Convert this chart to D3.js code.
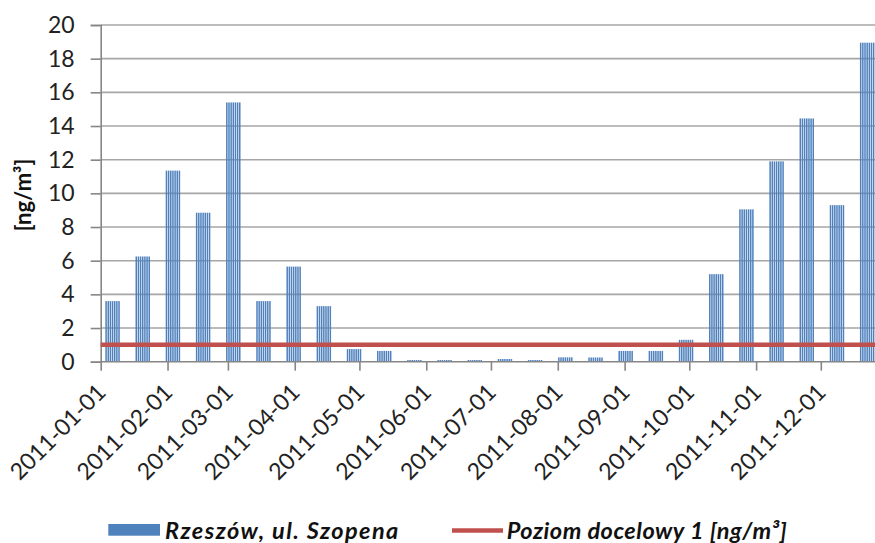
<!DOCTYPE html>
<html>
<head>
<meta charset="utf-8">
<script src="https://cdn.jsdelivr.net/npm/d3@7"></script>
<style>
  html, body { margin: 0; padding: 0; background: #fff; }
  svg { display: block; font-family: Lato, "Open Sans", sans-serif; }
</style>
</head>
<body>
<svg id="chart" width="875" height="543"></svg>
<script>
// ---- data ----
const sampleStarts = [
  "2011-01-03","2011-01-17","2011-01-31","2011-02-14","2011-02-28","2011-03-14",
  "2011-03-28","2011-04-11","2011-04-25","2011-05-09","2011-05-23","2011-06-06",
  "2011-06-20","2011-07-04","2011-07-18","2011-08-01","2011-08-15","2011-08-29",
  "2011-09-12","2011-09-26","2011-10-10","2011-10-24","2011-11-07","2011-11-21",
  "2011-12-05","2011-12-19"
];
const sampleValues = [
  3.6, 6.25, 11.35, 8.85, 15.4, 3.6,
  5.65, 3.3, 0.75, 0.64, 0.1, 0.1,
  0.1, 0.16, 0.1, 0.26, 0.25, 0.64,
  0.64, 1.3, 5.2, 9.05, 11.9, 14.45,
  9.3, 18.95
];
const sampleDays = 7;
const targetLevel = 1;
const yTicks = [0, 2, 4, 6, 8, 10, 12, 14, 16, 18, 20];
const xTickDates = ["2011-01-01","2011-02-01","2011-03-01","2011-04-01","2011-05-01","2011-06-01",
  "2011-07-01","2011-08-01","2011-09-01","2011-10-01","2011-11-01","2011-12-01"];
const seriesName = "Rzeszów, ul. Szopena";
const targetName = "Poziom docelowy 1 [ng/m³]";
const yTitle = "[ng/m³]";

(function () {
const svg = d3.select("#chart");
const W = 875, H = 543;
const mLeft = 100.7, mTop = 25, mBottom = 361.7;
const parse = d3.utcParse("%Y-%m-%d");

const x = d3.scaleUtc()
  .domain([parse("2011-01-01"), parse("2012-01-01")])
  .range([mLeft, mLeft + 365 * 2.156]);
const y = d3.scaleLinear().domain([0, 20]).range([mBottom, mTop]);
const mRight = W;

svg.append("defs").append("clipPath").attr("id", "plotclip")
  .append("rect").attr("x", mLeft).attr("y", 0).attr("width", mRight - mLeft).attr("height", H);

// gridlines
svg.append("g").selectAll("line").data(yTicks.filter(d => d > 0)).join("line")
  .attr("x1", mLeft).attr("x2", mRight)
  .attr("y1", d => y(d)).attr("y2", d => y(d))
  .attr("stroke", "#a6a6a6").attr("stroke-width", 1.6);

// bars (each sample spans several days)
const daily = [];
sampleStarts.forEach((s, i) => {
  const start = parse(s);
  for (let k = 0; k < sampleDays; k++) {
    daily.push({ date: d3.utcDay.offset(start, k), value: sampleValues[i] });
  }
});
const slot = x(parse("2011-01-02")) - x(parse("2011-01-01"));
const barW = slot * 0.7;
svg.append("g").attr("clip-path", "url(#plotclip)")
  .selectAll("rect").data(daily).join("rect")
  .attr("x", d => x(d.date) + (slot - barW) / 2)
  .attr("width", barW)
  .attr("y", d => y(d.value))
  .attr("height", d => y(0) - y(d.value))
  .attr("fill", "#4f81bd");

// y axis
const yAxis = d3.axisLeft(y).tickValues(yTicks).tickSize(10).tickPadding(16).tickFormat(d3.format("d"));
const gy = svg.append("g").attr("transform", `translate(${mLeft},0)`).call(yAxis);
gy.select(".domain").attr("stroke", "#868686").attr("stroke-width", 1.6);
gy.selectAll(".tick line").attr("stroke", "#868686").attr("stroke-width", 1.6);
gy.selectAll(".tick text").attr("font-size", 23).attr("fill", "#222").attr("font-family", "Lato, sans-serif");

// x axis
const xAxis = d3.axisBottom(x).tickValues(xTickDates.map(parse)).tickSize(9).tickFormat(d3.utcFormat("%Y-%m-%d"));
const gx = svg.append("g").attr("transform", `translate(0,${mBottom})`).call(xAxis);
gx.select(".domain").remove();
gx.append("line").attr("x1", mLeft).attr("x2", mRight).attr("y1", 0).attr("y2", 0)
  .attr("stroke", "#868686").attr("stroke-width", 1.6);
gx.selectAll(".tick line").attr("stroke", "#868686").attr("stroke-width", 1.6);
gx.selectAll(".tick text")
  .attr("font-size", 23).attr("fill", "#222").attr("font-family", "Lato, sans-serif")
  .attr("text-anchor", "end").attr("dy", null).attr("y", null)
  .attr("transform", "translate(6,32) rotate(-45)");

// target line
svg.append("line")
  .attr("x1", mLeft).attr("x2", mRight)
  .attr("y1", y(targetLevel)).attr("y2", y(targetLevel))
  .attr("stroke", "#c0504d").attr("stroke-width", 4.5);

// y title
svg.append("text")
  .attr("transform", `translate(31,195) rotate(-90)`)
  .attr("text-anchor", "middle")
  .attr("font-size", 22).attr("font-weight", "bold").attr("fill", "#111")
  .text(yTitle);

// legend
const lg = svg.append("g");
lg.append("rect").attr("x", 108.3).attr("y", 524).attr("width", 51.7).attr("height", 11.7).attr("fill", "#4f81bd");
lg.append("text").attr("x", 165).attr("y", 539).attr("font-size", 23.5).attr("font-style", "italic")
  .attr("letter-spacing", 1.4)
  .attr("font-weight", "bold").attr("fill", "#111").text(seriesName);
lg.append("line").attr("x1", 452).attr("x2", 503).attr("y1", 530.5).attr("y2", 530.5)
  .attr("stroke", "#c0504d").attr("stroke-width", 4.5);
lg.append("text").attr("x", 506.7).attr("y", 539).attr("font-size", 23.5).attr("font-style", "italic")
  .attr("letter-spacing", 0.5)
  .attr("font-weight", "bold").attr("fill", "#111").text(targetName);
})();
</script>
</body>
</html>
